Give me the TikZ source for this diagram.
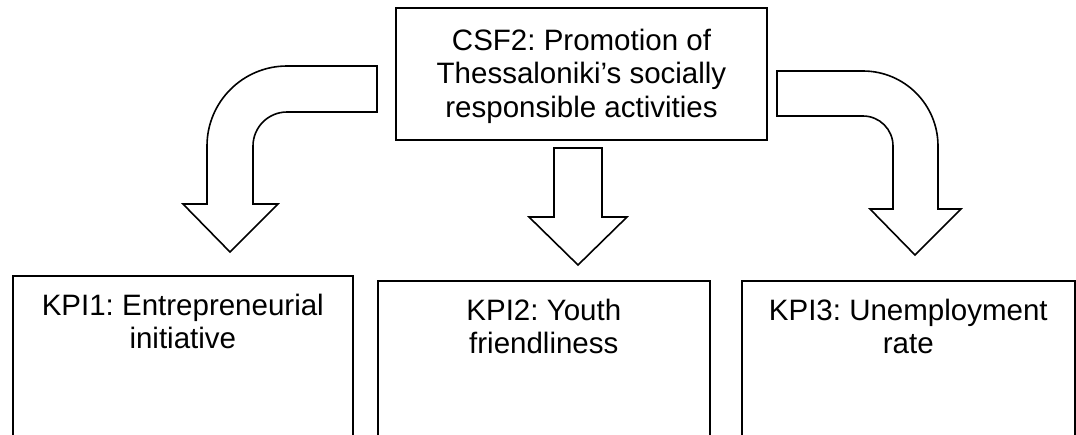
\documentclass[tikz,border=0pt]{standalone}
\usepackage{fontspec}
\setmainfont{Liberation Sans}
\usepackage{tikz}
\usetikzlibrary{positioning}
\frenchspacing

\begin{document}
\begin{tikzpicture}[x=1pt, y=1pt, line width=1.6pt,
    box/.style={draw=black, fill=white, inner sep=0pt},
    boxtext/.style={align=center, inner sep=0pt, font=\fontsize{29.5}{33.5}\selectfont},
    blockarrow/.style={draw=black, fill=white, line width=1.6pt, line join=miter}]
                \clip (0,0) rectangle (1076,-434);
                \node[box, minimum width=371, minimum height=132] (csf) at (581.5,-74) {};
                \node[boxtext, yshift=-2] (csftext) at (csf.center) {CSF2: Promotion of\\Thessaloniki’s socially\\responsible activities};
                \node[box, anchor=north west, minimum width=340, minimum height=200] (kpi1) at (12,-275) {};
                \node[box, anchor=north west, minimum width=332, minimum height=200] (kpi2) at (377,-280) {};
                \node[box, anchor=north west, minimum width=333, minimum height=200] (kpi3) at (741,-280) {};
                \node[boxtext, anchor=north, yshift=-18] (kpi1text) at (kpi1.north) {KPI1: Entrepreneurial\\initiative};
                \node[boxtext, anchor=north, yshift=-18] (kpi2text) at (kpi2.north) {KPI2: Youth\\friendliness};
                \node[boxtext, anchor=north, yshift=-18] (kpi3text) at (kpi3.north) {KPI3: Unemployment\\rate};
                \draw[blockarrow] (207,-204) -- (207,-146) arc[start angle=180, end angle=90, radius=80]
                    -- (377,-66) -- (377,-112) -- (287,-112) arc[start angle=90, end angle=180, radius=34]
                    -- (253,-204) -- (278,-204) -- (230,-252) -- (183,-204) -- cycle;
                \draw[blockarrow] (554,-148) -- (602,-148) -- (602,-217) -- (627,-217) -- (578,-265)
                    -- (529,-217) -- (554,-217) -- cycle;
                \draw[blockarrow] (893,-209) -- (893,-146) arc[start angle=0, end angle=90, radius=30]
                    -- (777,-116) -- (777,-71) -- (863,-71) arc[start angle=90, end angle=0, radius=75]
                    -- (938,-209) -- (961,-209) -- (915,-255) -- (870,-209) -- cycle;
            \end{tikzpicture}
\end{document}
